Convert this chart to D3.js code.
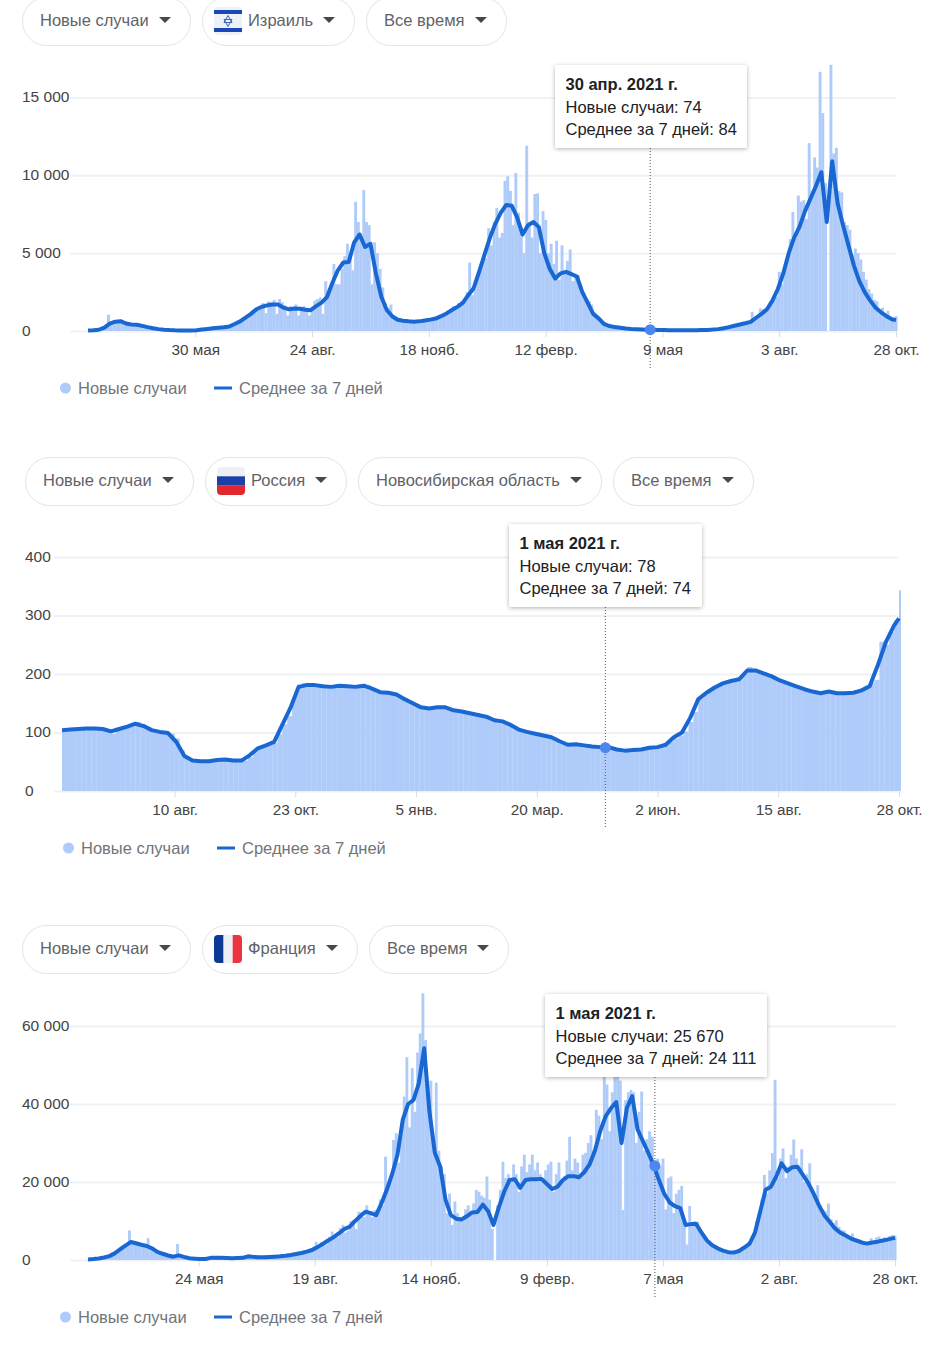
<!DOCTYPE html>
<html>
<head>
<meta charset="utf-8">
<script src="https://cdn.jsdelivr.net/npm/d3@7"></script>
<style>
  body { margin: 0; background: #fff; font-family: "Liberation Sans", Arial, sans-serif; }
  svg { display: block; }
</style>
</head>
<body>
<svg id="page" width="934" height="1360"></svg>
<script>
var legendLabels = ["Новые случаи", "Среднее за 7 дней"];

// Israel: one bar per 2 days from 12 Mar 2020, one line point per 4 days
var israelBars = [20,40,60,100,150,120,300,1050,500,620,650,640,620,600,500,430,400,430,400,380,300,280,220,180,150,120,100,80,70,60,50,40,40,40,35,40,35,45,40,40,50,60,90,100,140,150,170,220,190,240,230,280,260,380,500,560,640,780,980,1000,1300,1250,1400,1500,1800,1150,1900,1850,2000,1100,2050,1850,1650,1000,1600,1550,1700,1000,1550,1600,1500,1000,1400,1950,2050,2150,1100,3200,2500,2900,4300,3000,3000,4000,4800,5600,5000,3900,8300,7000,6000,9050,7000,6800,3000,5700,5000,4000,2800,1800,1500,1700,900,900,850,700,650,700,600,650,550,600,700,600,780,650,850,800,950,900,1100,1050,1300,1250,1600,1500,1800,1900,1900,2500,4400,2300,2700,3500,4000,4600,4700,6600,5500,7000,7900,6000,6300,9650,9930,9000,6800,10150,7600,6700,5000,11900,7000,6000,8800,8840,5000,7700,7140,5000,5600,4300,5800,3300,5500,3700,4500,5240,3200,3500,3600,2900,2500,2000,1900,1700,1200,800,800,500,450,400,330,280,250,230,210,200,170,150,130,120,110,110,100,95,90,74,70,65,60,60,55,50,50,48,45,45,50,48,45,50,48,50,55,60,60,70,75,90,100,120,130,180,200,260,300,360,400,430,480,500,480,560,1230,750,900,1450,1400,1300,1500,1800,2300,2200,3800,3000,3900,4700,5900,7650,6000,8700,8300,8400,7200,12070,9000,11150,10500,16650,14000,9500,0,17100,11400,11770,9000,8900,7000,6800,6500,4900,5300,5000,4600,3800,3300,2700,2400,2000,1900,1300,1500,1100,1300,900,850,950];
var israelAvg = [30,50,80,220,480,600,630,480,420,400,330,250,180,120,85,60,45,40,40,40,50,90,130,170,210,240,290,450,620,860,1100,1400,1560,1650,1700,1700,1500,1390,1450,1430,1370,1340,1600,1820,2180,3100,3900,4400,4430,5700,6200,5400,5600,3700,2200,1350,950,720,660,620,600,620,680,730,800,950,1130,1350,1550,1800,2300,2750,3800,4900,6000,6900,7600,8100,8050,7300,6200,6800,7000,6670,5000,4000,3370,3700,3800,3650,3500,2500,1800,1100,810,450,320,250,210,160,130,110,95,84,75,65,60,55,50,48,50,48,50,60,70,90,120,180,250,340,420,500,590,850,1100,1400,1950,2700,3700,5000,6000,6700,7700,8500,9300,10200,7000,10900,8200,6800,5500,4200,3200,2500,1950,1500,1200,950,750,700];
var israelTicks = ["2020-05-30","2020-08-24","2020-11-18","2021-02-12","2021-05-09","2021-08-03","2021-10-28"];
var israelTickLabels = ["30 мая","24 авг.","18 нояб.","12 февр.","9 мая","3 авг.","28 окт."];
var israelYTicks = [0,5000,10000,15000];
var israelChips = ["Новые случаи","Израиль","Все время"];
var israelTip = ["30 апр. 2021 г.","Новые случаи: 74","Среднее за 7 дней: 84"];

// Novosibirsk: one bar per 3 days from 2 Jun 2020, one line point per 5 days
var novosibBars = [104,105,104,106,106,107,107,107,106,105,98,106,110,112,113,118,115,110,104,102,100,99,98,90,70,60,53,52,52,51,52,52,56,56,53,53,52,52,58,68,75,78,82,82,97,114,128,160,182,185,181,181,182,180,179,181,182,180,181,179,182,180,181,176,172,170,170,167,166,161,156,152,149,144,141,142,143,144,143,139,138,137,136,134,132,130,128,125,121,119,117,112,107,105,102,101,99,97,97,93,92,86,80,79,80,80,79,78,77,77,76,78,73,72,69,69,70,71,72,73,75,75,76,80,85,90,95,102,118,135,158,165,172,178,182,186,188,190,195,200,212,208,206,203,199,196,192,187,185,181,178,175,172,170,168,167,168,170,168,168,170,168,170,174,180,186,190,255,250,272,292,343];
var novosibAvg = [104,105,106,107,107,106,102,106,110,115,111,104,101,99,84,60,52,51,51,53,54,52,52,61,73,78,84,113,142,178,181,181,179,178,180,179,178,180,175,169,168,165,157,150,143,141,143,143,138,136,133,130,127,121,119,113,105,101,98,95,92,85,79,80,78,76,75,75,71,69,70,71,74,75,79,92,100,125,157,168,177,184,188,191,206,206,201,196,189,184,179,174,170,167,170,167,167,168,172,179,215,255,283,295];
var novosibTicks = ["2020-08-10","2020-10-23","2021-01-05","2021-03-20","2021-06-02","2021-08-15","2021-10-28"];
var novosibTickLabels = ["10 авг.","23 окт.","5 янв.","20 мар.","2 июн.","15 авг.","28 окт."];
var novosibYTicks = [0,100,200,300,400];
var novosibChips = ["Новые случаи","Россия","Новосибирская область","Все время"];
var novosibTip = ["1 мая 2021 г.","Новые случаи: 78","Среднее за 7 дней: 74"];

// France: one bar per 2 days from 2 Mar 2020, one line point per 4 days
var franceBars = [50,120,200,300,400,550,700,900,1100,1300,1700,2100,2700,3100,3800,7600,5000,4700,4500,4100,3800,4000,5600,3500,3300,2700,2200,2200,1700,1400,1100,1000,900,4100,1300,1200,900,700,500,400,350,300,280,270,260,280,900,700,600,550,500,520,500,480,470,500,520,500,600,1100,1200,800,750,700,650,680,700,750,780,850,900,900,1000,1100,1150,1200,1400,1500,1700,1500,1900,2100,2200,2900,3400,4700,3500,4600,3700,4000,6000,7300,5500,5800,8200,9000,7000,7500,10000,10300,8000,12400,12300,11000,14000,12500,11000,12800,11800,15500,14000,26500,18500,21000,30800,32500,25000,34000,41900,52000,34000,49200,38000,53200,58100,68400,56400,42000,46000,30000,45500,28000,24000,22000,12000,17000,9000,15000,12000,11000,10000,13000,14000,11500,14500,18000,17500,16500,16000,21400,15500,8000,0,14000,18000,25200,21000,22000,20000,24500,22000,17500,24000,27000,22500,24500,27000,23000,25000,22000,21000,23000,24500,25200,17500,22000,25000,20000,21500,25500,31600,23000,26000,25000,22000,27000,27500,30000,32000,28000,38500,37000,31000,47900,45000,33000,43000,47000,47000,46000,12800,41000,43000,43600,43000,30000,38000,43200,28000,31000,33000,31600,25670,26000,24000,26000,13000,21000,21400,12000,17000,18000,19000,10000,4000,13850,9000,10000,9800,7000,6500,5500,5000,4200,3700,3200,2800,2500,2200,2000,1900,1800,1900,2100,2400,2900,3300,4500,5000,6500,10000,12000,15500,21800,17000,23000,27400,46200,21000,26000,28600,21000,24000,27000,30900,26000,23000,28400,20000,22000,24800,18000,16000,19200,14000,13000,12500,14500,10500,9500,10200,8500,7700,7500,6000,6000,6800,5000,5000,5200,4500,4500,4800,5600,4600,5800,6000,5000,5800,5600,6200,6400,6300];
var franceAvg = [100,230,400,650,1000,1700,2700,3700,4600,4300,3900,3600,3000,2100,1600,1150,850,1200,800,450,350,280,260,550,600,550,510,480,500,550,950,800,680,700,780,850,950,1100,1300,1540,1800,2150,2560,3300,4100,5000,5800,6800,7900,8500,9900,11200,12400,12000,11500,14500,18000,22000,27000,36000,40000,41000,45300,54300,38000,27500,24000,15500,11500,10600,10400,11200,12200,12300,14200,12500,9000,13500,17500,20500,20700,18500,20500,20700,20700,20800,19500,18200,18800,20500,21500,21500,21200,22500,24500,28000,33000,36800,38900,40500,30000,39000,42000,33500,30500,27500,24400,20500,17000,14800,13800,13300,9000,9200,9200,7000,5000,3800,3000,2400,2000,1900,2300,3200,4200,7000,12500,18000,18800,21400,24800,22800,23800,23900,21800,19700,17000,14000,11500,9800,8100,7000,6300,5500,5000,4500,4200,4500,4700,5000,5300,5600,5700];
var franceTicks = ["2020-05-24","2020-08-19","2020-11-14","2021-02-09","2021-05-07","2021-08-02","2021-10-28"];
var franceTickLabels = ["24 мая","19 авг.","14 нояб.","9 февр.","7 мая","2 авг.","28 окт."];
var franceYTicks = [0,20000,40000,60000];
var franceChips = ["Новые случаи","Франция","Все время"];
var franceTip = ["1 мая 2021 г.","Новые случаи: 25 670","Среднее за 7 дней: 24 111"];

var parseDay = d3.timeParse("%Y-%m-%d");
var svg = d3.select("#page");

var defs = svg.append("defs");
defs.append("filter").attr("id", "tipShadow")
    .attr("x", "-10%").attr("y", "-10%").attr("width", "120%").attr("height", "130%")
  .append("feDropShadow")
    .attr("dx", 0).attr("dy", 1).attr("stdDeviation", 2)
    .attr("flood-color", "#000").attr("flood-opacity", 0.3);

function drawFlag(g, name, x, y) {
  var f = g.append("g").attr("transform", "translate(" + x + "," + y + ")");
  var clipId = "flag" + name;
  defs.append("clipPath").attr("id", clipId)
    .append("rect").attr("width", 28).attr("height", 28).attr("rx", 4);
  var inner = f.append("g").attr("clip-path", "url(#" + clipId + ")");
  if (name == "il") {
    inner.append("rect").attr("width", 28).attr("height", 28).attr("fill", "#eef1f6");
    inner.append("rect").attr("y", 3).attr("width", 28).attr("height", 4).attr("fill", "#1a47b8");
    inner.append("rect").attr("y", 21).attr("width", 28).attr("height", 4).attr("fill", "#1a47b8");
    inner.append("path").attr("d", "M14 8.5l4 7h-8zM14 19.5l4-7h-8z")
      .attr("fill", "none").attr("stroke", "#3c63c4").attr("stroke-width", 1);
  } else if (name == "ru") {
    inner.append("rect").attr("width", 28).attr("height", 9.3).attr("fill", "#eef0f4");
    inner.append("rect").attr("y", 9.3).attr("width", 28).attr("height", 9.4).attr("fill", "#1c3fa8");
    inner.append("rect").attr("y", 18.7).attr("width", 28).attr("height", 9.3).attr("fill", "#e0282e");
  } else {
    inner.append("rect").attr("width", 28).attr("height", 28).attr("fill", "#eef0f4");
    inner.append("rect").attr("width", 9.3).attr("height", 28).attr("fill", "#0b3a96");
    inner.append("rect").attr("x", 18.7).attr("width", 9.3).attr("height", 28).attr("fill", "#ee3340");
  }
}

function drawChips(g, labels, edges, top, flagName) {
  labels.forEach(function (label, i) {
    var x0 = edges[i][0], x1 = edges[i][1];
    g.append("rect").attr("x", x0 + 0.5).attr("y", top + 0.5)
      .attr("width", x1 - x0 - 1).attr("height", 48).attr("rx", 24)
      .attr("fill", "#fff").attr("stroke", "#e3e4e6");
    var hasFlag = i == 1;
    if (hasFlag) drawFlag(g, flagName, x0 + 12, top + 10);
    g.append("text").attr("x", x0 + (hasFlag ? 46 : 18)).attr("y", top + 23)
      .attr("dy", "0.35em").attr("font-size", 16.5).attr("fill", "#5f6368").text(label);
    var cx = x1 - 26;
    g.append("path").attr("d", "M" + (cx - 6) + " " + (top + 20) + "h12l-6 6z").attr("fill", "#45484c");
  });
}

function drawChart(c) {
  var g = svg.append("g");
  var start = parseDay(c.start), end = parseDay("2021-10-28");
  var x = d3.scaleTime().domain([start, end]).range([c.x0, c.x1]);
  var y = d3.scaleLinear().domain([0, c.yMax]).range([c.base, c.yTop]);

  drawChips(g, c.chips, c.chipEdges, c.chipTop, c.flag);

  // gridlines and y labels
  var yAxis = g.append("g").attr("transform", "translate(" + c.gridEnd + ",0)")
      .call(d3.axisLeft(y).tickValues(c.yTicks)
        .tickSize(c.gridEnd - c.gridStart).tickPadding(c.gridStart - c.labelX)
        .tickFormat(function (d) { return d3.format(",")(d).replace(/,/g, " "); }));
  yAxis.select(".domain").remove();
  yAxis.selectAll("line").attr("stroke", "#f1f1f1").attr("stroke-width", 2);
  yAxis.selectAll("text").attr("text-anchor", "start")
      .attr("x", c.labelX - c.gridEnd).attr("y", -0.7)
      .attr("font-size", 15.5).attr("font-family", "Liberation Sans").attr("fill", "#444");

  // x ticks
  var tickDates = c.ticks.map(parseDay);
  var xAxis = g.append("g").attr("transform", "translate(0," + c.base + ")")
      .call(d3.axisBottom(x).tickValues(tickDates).tickSize(6).tickPadding(7)
        .tickFormat(function (d, i) { return c.tickLabels[i]; }));
  xAxis.select(".domain").remove();
  xAxis.selectAll("line").attr("stroke", "#dadce0");
  xAxis.selectAll("text").attr("font-size", 15.3).attr("font-family", "Liberation Sans").attr("fill", "#444");

  // bars, the last one stops at the plot edge
  var barWidth = x(d3.timeDay.offset(start, c.barStep)) - x(start);
  function barX(i) { return x(d3.timeDay.offset(start, i * c.barStep)); }
  g.append("g").selectAll("rect").data(c.bars).join("rect")
      .attr("x", function (d, i) { return barX(i); })
      .attr("y", function (d) { return y(d); })
      .attr("width", function (d, i) { return Math.min(barWidth + 0.2, c.barEnd - barX(i)); })
      .attr("height", function (d) { return c.base - y(d); })
      .attr("fill", "#aecbfa");

  // 7-day average
  var lineDates = d3.timeDay.range(start, end, c.lineStep);
  lineDates.push(end);
  var line = d3.line()
      .x(function (d, i) { return x(lineDates[i]); })
      .y(function (d) { return y(d); });
  g.append("path").datum(c.avg.slice(0, lineDates.length))
      .attr("d", line).attr("fill", "none")
      .attr("stroke", "#1967d2").attr("stroke-width", 4).attr("stroke-linejoin", "round");

  // hover marker and tooltip
  var hx = x(parseDay(c.hoverDay));
  g.append("line").attr("x1", hx).attr("x2", hx)
      .attr("y1", c.tipBox[1] + c.tipBox[3]).attr("y2", c.ruleEnd)
      .attr("stroke", "#555").attr("stroke-dasharray", "1,2");
  g.append("circle").attr("cx", hx).attr("cy", y(c.hoverValue)).attr("r", 5.5).attr("fill", "#4d86f0");

  g.append("rect").attr("x", c.tipBox[0]).attr("y", c.tipBox[1])
      .attr("width", c.tipBox[2]).attr("height", c.tipBox[3]).attr("rx", 2)
      .attr("fill", "#fff").attr("filter", "url(#tipShadow)");
  g.selectAll("text.tip").data(c.tip).join("text").attr("class", "tip")
      .attr("x", c.tipBox[0] + 10.5)
      .attr("y", function (d, i) { return c.tipBox[1] + 19.5 + i * 22.5; })
      .attr("dy", "0.35em").attr("font-size", 16.5).attr("fill", "#202124")
      .attr("font-weight", function (d, i) { return i == 0 ? "bold" : "normal"; })
      .text(function (d) { return d; });

  // legend
  var ly = c.legendY, lx = c.legendX;
  g.append("circle").attr("cx", lx + 5.5).attr("cy", ly).attr("r", 5.5).attr("fill", "#aecbfa");
  g.append("line").attr("x1", lx + 154).attr("x2", lx + 172).attr("y1", ly).attr("y2", ly)
      .attr("stroke", "#1967d2").attr("stroke-width", 3);
  [lx + 18, lx + 179].forEach(function (tx, i) {
    g.append("text").attr("x", tx).attr("y", ly).attr("dy", "0.35em")
      .attr("font-size", 16.5).attr("fill", "#70757a").text(legendLabels[i]);
  });
}

drawChart({
  start: "2020-03-12", x0: 88, x1: 896, barEnd: 898, base: 331, yTop: 97.5, yMax: 15000,
  bars: israelBars, avg: israelAvg, barStep: 2, lineStep: 4,
  ticks: israelTicks, tickLabels: israelTickLabels, yTicks: israelYTicks,
  gridStart: 70, gridEnd: 896, labelX: 22,
  chips: israelChips, chipEdges: [[22,191],[202,355],[366,507]], chipTop: -3, flag: "il",
  hoverDay: "2021-04-30", hoverValue: 84, tip: israelTip, tipBox: [555,65,192,83], ruleEnd: 368,
  legendX: 60, legendY: 388
});
drawChart({
  start: "2020-06-02", x0: 62, x1: 899, barEnd: 901, base: 791, yTop: 557, yMax: 400,
  bars: novosibBars, avg: novosibAvg, barStep: 3, lineStep: 5,
  ticks: novosibTicks, tickLabels: novosibTickLabels, yTicks: novosibYTicks,
  gridStart: 54, gridEnd: 898, labelX: 25,
  chips: novosibChips, chipEdges: [[25,194],[205,347],[358,602],[613,754]], chipTop: 457, flag: "ru",
  hoverDay: "2021-05-01", hoverValue: 74, tip: novosibTip, tipBox: [509,524,193,83], ruleEnd: 828,
  legendX: 63, legendY: 848
});
drawChart({
  start: "2020-03-02", x0: 88, x1: 895, barEnd: 898, base: 1260, yTop: 1026, yMax: 60000,
  bars: franceBars, avg: franceAvg, barStep: 2, lineStep: 4,
  ticks: franceTicks, tickLabels: franceTickLabels, yTicks: franceYTicks,
  gridStart: 70, gridEnd: 896, labelX: 22,
  chips: franceChips, chipEdges: [[22,191],[202,358],[369,509]], chipTop: 925, flag: "fr",
  hoverDay: "2021-05-01", hoverValue: 24111, tip: franceTip, tipBox: [545,994,222,83], ruleEnd: 1297,
  legendX: 60, legendY: 1317
});
</script>
</body>
</html>
